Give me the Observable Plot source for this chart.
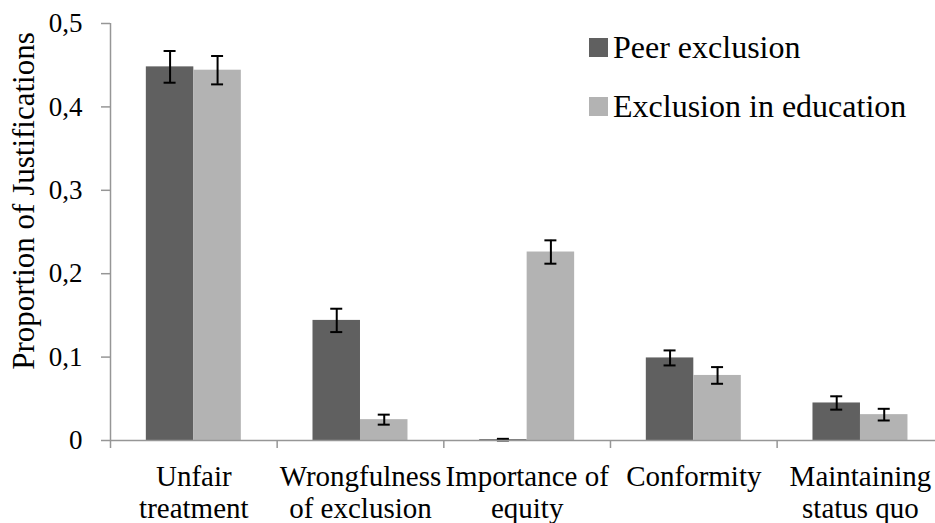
<!DOCTYPE html>
<html>
<head>
<meta charset="utf-8">
<script src="https://cdn.jsdelivr.net/npm/d3@7"></script>
<script src="https://cdn.jsdelivr.net/npm/@observablehq/plot@0.6"></script>
<style>
  html, body { margin: 0; padding: 0; background: #fff; }
  #chart { position: relative; width: 935px; height: 523px; }
  #chart, #chart text, #chart tspan, #chart span, #chart div { font-family: 'Liberation Serif', 'Times New Roman', serif !important; }
  #legend { position: absolute; left: 589px; top: 32px; }
  .row { display: flex; align-items: center; height: 30px; margin-bottom: 29px; font-size: 32px; line-height: 30px; color: #000; white-space: nowrap; }
  .swatch { width: 19px; height: 19px; margin-right: 5px; flex: none; }
</style>
</head>
<body>
<div id="chart"><div id="legend"></div></div>
<script>
// Justification categories (line breaks as set in the axis labels)
const categories = ["Unfair\ntreatment", "Wrongfulness\nof exclusion", "Importance of\nequity", "Conformity", "Maintaining\nstatus quo"];
const series = ["Peer exclusion", "Exclusion in education"];
const seriesColors = ["#606060", "#b3b3b3"];

// Mean proportions and standard errors per context
const peerValues = [0.448, 0.144, 0.001, 0.099, 0.045];
const peerErrors = [0.019, 0.014, 0.001, 0.009, 0.008];
const educationValues = [0.444, 0.025, 0.226, 0.078, 0.031];
const educationErrors = [0.017, 0.006, 0.014, 0.010, 0.007];

const yTicks = [0, 0.1, 0.2, 0.3, 0.4, 0.5];
const yTitle = "Proportion of Justifications";

// Layout (fractions of one category slot)
const barWidth = 0.285;
const capHalf = 0.036;
const axisGray = "#969696";
const serifFont = "'Liberation Serif', 'Times New Roman', serif";

const valuesBySeries = [peerValues, educationValues];
const errorsBySeries = [peerErrors, educationErrors];
const rows = [];
categories.forEach((category, i) => {
  series.forEach((name, s) => {
    const x1 = i + 0.5 + (s - 1) * barWidth;
    rows.push({
      category, series: name,
      x1, x2: x1 + barWidth, cx: x1 + barWidth / 2,
      value: valuesBySeries[s][i],
      error: errorsBySeries[s][i]
    });
  });
});

const boundaries = d3.range(categories.length + 1);
const centers = categories.map((_, i) => i + 0.5);
const fmt = d => d === 0 ? "0" : d.toFixed(1).replace(".", ",");

const chart = Plot.plot({
  width: 935,
  height: 523,
  marginLeft: 110,
  marginTop: 23,
  marginBottom: 83,
  marginRight: 0,
  style: { fontFamily: serifFont, background: "transparent", overflow: "visible" },
  x: { domain: [0, categories.length], range: [110, 943.3], axis: null, label: null },
  y: { domain: [0, 0.5], axis: null, label: null },
  color: { domain: series, range: seriesColors },
  marks: [
    Plot.rectY(rows, { x1: "x1", x2: "x2", y1: 0, y2: "value", fill: "series" }),
    Plot.ruleX(rows, { x: "cx", y1: d => d.value - d.error, y2: d => d.value + d.error, stroke: "#000", strokeWidth: 2 }),
    Plot.ruleY(rows, { x1: d => d.cx - capHalf, x2: d => d.cx + capHalf, y: d => d.value + d.error, stroke: "#000", strokeWidth: 2 }),
    Plot.ruleY(rows, { x1: d => d.cx - capHalf, x2: d => d.cx + capHalf, y: d => d.value - d.error, stroke: "#000", strokeWidth: 2 }),
    Plot.ruleX([0], { y1: 0, y2: 0.5, stroke: axisGray, strokeWidth: 1.5 }),
    Plot.ruleY([0], { stroke: axisGray, strokeWidth: 1.5 }),
    Plot.axisY(yTicks, { tickSize: 9, tickPadding: 19, fontSize: 27, tickFormat: fmt, stroke: axisGray, strokeWidth: 1.5, fill: "#000", label: null }),
    Plot.axisX(boundaries, { tickSize: 8, tickFormat: () => "", stroke: axisGray, strokeWidth: 1.5, label: null }),
    Plot.axisX(centers, { tickSize: 0, tickPadding: 23, fontSize: 29, lineHeight: 1.1, tickFormat: v => categories[Math.floor(v)], fill: "#000", label: null }),
    Plot.text([yTitle], { frameAnchor: "left", textAnchor: "middle", rotate: -90, dx: -86, dy: -31, fontSize: 31, fill: "#000" })
  ]
});

// Serif face on every text node of the chart
chart.setAttribute("font-family", serifFont);
chart.querySelectorAll("text, tspan").forEach(t => {
  t.setAttribute("font-family", serifFont);
  t.style.setProperty("font-family", serifFont, "important");
});

const container = document.getElementById("chart");
container.insertBefore(chart, container.firstChild);

// Legend built from the same series and colours
const legend = document.getElementById("legend");
series.forEach((name, s) => {
  const row = document.createElement("div");
  row.className = "row";
  row.style.setProperty("font-family", serifFont, "important");
  const sw = document.createElement("span");
  sw.className = "swatch";
  sw.style.background = seriesColors[s];
  const label = document.createElement("span");
  label.style.setProperty("font-family", serifFont, "important");
  label.textContent = name;
  row.appendChild(sw);
  row.appendChild(label);
  legend.appendChild(row);
});
</script>
</body>
</html>
